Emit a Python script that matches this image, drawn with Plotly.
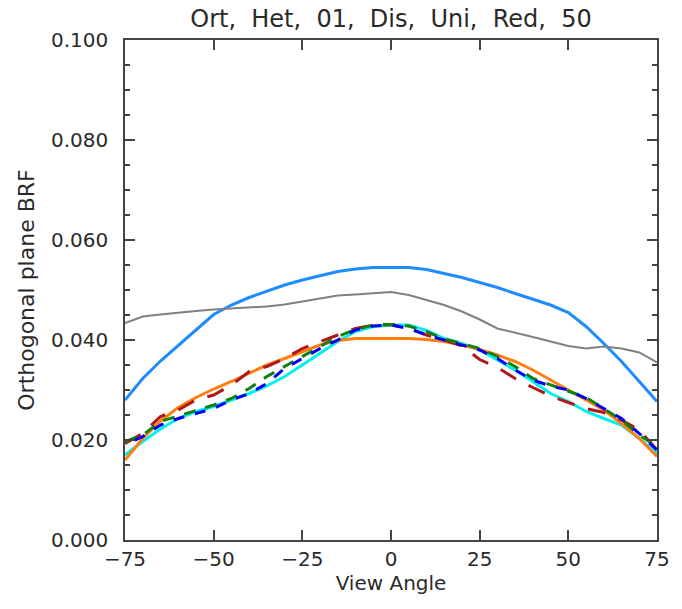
import plotly.graph_objects as go

# view angles (degrees)
angles = list(range(-75, 80, 5))

blue_solid = [0.0280, 0.0323, 0.0358, 0.0390, 0.0420, 0.0451, 0.0470, 0.0485, 0.0498, 0.0510,
              0.0520, 0.0529, 0.0537, 0.0542, 0.0545, 0.0545, 0.0545, 0.0541, 0.0533, 0.0525,
              0.0515, 0.0505, 0.0493, 0.0481, 0.0470, 0.0455, 0.0427, 0.0393, 0.0357, 0.0317, 0.0277]

gray = [0.0434, 0.0447, 0.0451, 0.0455, 0.0458, 0.0461, 0.0463, 0.0465, 0.0467, 0.0471,
        0.0477, 0.0482, 0.0489, 0.0491, 0.0494, 0.0496, 0.0490, 0.0480, 0.0470, 0.0457,
        0.0441, 0.0423, 0.0415, 0.0406, 0.0397, 0.0388, 0.0383, 0.0387, 0.0383, 0.0375, 0.0355]

orange = [0.0160, 0.0203, 0.0238, 0.0265, 0.0285, 0.0302, 0.0317, 0.0333, 0.0350, 0.0363,
          0.0377, 0.0390, 0.0399, 0.0403, 0.0403, 0.0403, 0.0403, 0.0401, 0.0397, 0.0390,
          0.0381, 0.0370, 0.0357, 0.0340, 0.0320, 0.0300, 0.0281, 0.0260, 0.0233, 0.0203, 0.0167]

cyan = [0.0170, 0.0197, 0.0222, 0.0243, 0.0257, 0.0267, 0.0280, 0.0293, 0.0308, 0.0327,
        0.0350, 0.0373, 0.0397, 0.0417, 0.0427, 0.0430, 0.0430, 0.0419, 0.0403, 0.0393,
        0.0380, 0.0360, 0.0340, 0.0317, 0.0293, 0.0277, 0.0257, 0.0243, 0.0230, 0.0203, 0.0173]

red_dash = [0.0193, 0.0213, 0.0247, 0.0260, 0.0280, 0.0290, 0.0310, 0.0337, 0.0347, 0.0363,
            0.0383, 0.0397, 0.0410, 0.0423, 0.0430, 0.0431, 0.0423, 0.0410, 0.0400, 0.0388,
            0.0361, 0.0345, 0.0323, 0.0305, 0.0288, 0.0275, 0.0263, 0.0255, 0.0240, 0.0220, 0.0180]

green_dash = [0.0197, 0.0210, 0.0237, 0.0248, 0.0260, 0.0270, 0.0283, 0.0303, 0.0327, 0.0347,
              0.0367, 0.0387, 0.0407, 0.0421, 0.0430, 0.0431, 0.0428, 0.0417, 0.0402, 0.0393,
              0.0383, 0.0367, 0.0347, 0.0323, 0.0310, 0.0297, 0.0285, 0.0263, 0.0240, 0.0210, 0.0187]

blue_dash = [0.0190, 0.0207, 0.0230, 0.0243, 0.0253, 0.0263, 0.0280, 0.0293, 0.0313, 0.0343,
             0.0363, 0.0383, 0.0400, 0.0420, 0.0428, 0.0430, 0.0423, 0.0410, 0.0400, 0.0390,
             0.0380, 0.0363, 0.0340, 0.0320, 0.0308, 0.0300, 0.0283, 0.0263, 0.0243, 0.0213, 0.0180]

x_ticks = [-75, -50, -25, 0, 25, 50, 75]
title_parts = ["Ort", "Het", "01", "Dis", "Uni", "Red", "50"]

fig = go.Figure()

def add(y, color, width, dash="solid"):
    fig.add_trace(go.Scatter(x=angles, y=y, mode="lines",
                             line=dict(color=color, width=width, dash=dash),
                             showlegend=False, hoverinfo="skip"))

add(blue_solid, "#1E8CFF", 3)
add(gray, "#808080", 2)
add(cyan, "#00F0F0", 3)
add(orange, "#FF7F10", 3)
add(red_dash, "#B01818", 3, "18px,14px")
add(green_dash, "#108010", 3, "12px,10px")
add(blue_dash, "#0000F0", 3, "0px,11px,11px,0px")

txt = "#2a2a2a"
axis_common = dict(showgrid=False, zeroline=False, showline=True, linecolor="#444444",
                   linewidth=1.5, mirror="ticks", ticks="inside", tickcolor="#444444",
                   tickwidth=1.5, tickfont=dict(family="DejaVu Sans", size=20, color=txt))

fig.update_xaxes(range=[-75, 75], tickvals=x_ticks, ticklen=10,
                 title=dict(text="View Angle", font=dict(family="DejaVu Sans", size=20, color=txt),
                            standoff=0),
                 **axis_common)
fig.update_yaxes(range=[0, 0.1], dtick=0.02, tickformat=".3f", ticklen=10, ticklabelstandoff=11,
                 minor=dict(dtick=0.005, ticklen=5, ticks="inside", tickcolor="#444444", tickwidth=1.5),
                 title=dict(text="Orthogonal plane BRF", font=dict(family="DejaVu Sans", size=22, color=txt),
                            standoff=10),
                 **axis_common)

# the page body adds an 8px margin, so the figure is sized to fit the window
fig.update_layout(
    width=674, height=601,
    margin=dict(l=117, r=14, t=32, b=69),
    plot_bgcolor="white", paper_bgcolor="white",
    title=dict(text=",\u00a0 ".join(title_parts), x=0.5, xref="paper", y=0.982, yanchor="middle",
               font=dict(family="DejaVu Sans", size=24, color=txt)),
)

fig.write_html("out.html")
